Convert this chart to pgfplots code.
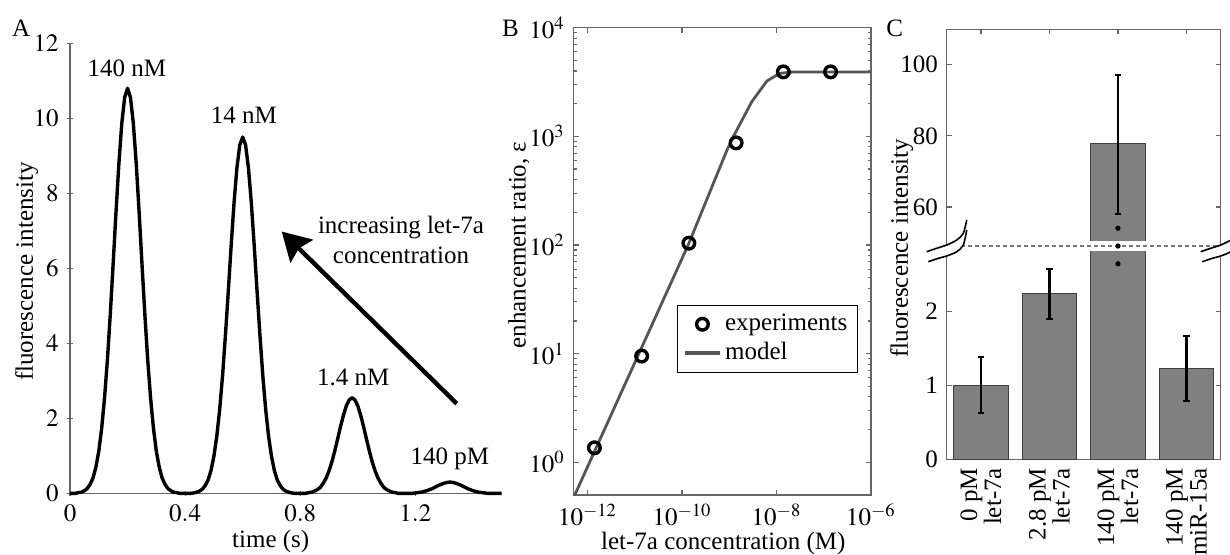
\documentclass[border=0pt]{standalone}
\usepackage{mathptmx}
\usepackage[no-math]{fontspec}
\setmainfont{Liberation Serif}
\usepackage{pgfplots}
\pgfplotsset{compat=1.18}
\usetikzlibrary{arrows.meta}
\definecolor{axisgray}{HTML}{666666}
\definecolor{dashgray}{HTML}{777777}
\definecolor{modelgray}{HTML}{555555}
\definecolor{barfill}{HTML}{808080}
\definecolor{baredge}{HTML}{404040}
\newcommand{\fs}{\fontsize{12.5}{15}\selectfont}
\pgfplotsset{
  every axis/.append style={
    scale only axis, anchor=south west,
    axis line style={axisgray, line width=0.6pt},
    every tick/.style={axisgray, line width=0.6pt},
    major tick length=2.6pt, minor tick length=1.6pt,
    tick align=inside,
    tick label style={font=\fs},
    label style={font=\fs},
  },
  errbar/.style={black, line width=1.2pt, mark=-, mark size=1.6pt, mark options={line width=1pt}},
}
\begin{document}
\fs
\begin{tikzpicture}
\path[use as bounding box] (0,0) rectangle (615pt,277pt);

% ---- A: peaks
\begin{axis}[at={(35pt,30.35pt)}, width=215.85pt, height=225pt,
  axis lines=left, axis line style={-},
  xmin=0, xmax=1.5, ymin=0, ymax=12,
  xtick={0,0.4,0.8,1.2}, ytick={0,2,4,6,8,10,12},
  xlabel={time (s)}, ylabel={fluorescence intensity},
  xlabel style={at={(axis description cs:0.465,-0.106)}, anchor=center},
  ylabel style={at={(axis description cs:-0.1003,0.493)}, anchor=center},
  clip=false]
\addplot[black, line width=1.7pt, line join=round] coordinates {
 (0,0) (0.02,0) (0.03,0.02) (0.04,0.03) (0.05,0.07) (0.06,0.13) (0.07,0.24) (0.08,0.41) (0.09,0.70)
 (0.10,1.12) (0.11,1.73) (0.12,2.54) (0.13,3.56) (0.14,4.78) (0.15,6.13) (0.16,7.52) (0.17,8.81)
 (0.18,9.87) (0.19,10.56) (0.20,10.80) (0.21,10.56) (0.22,9.87) (0.23,8.81) (0.24,7.52) (0.25,6.13)
 (0.26,4.78) (0.27,3.56) (0.28,2.54) (0.29,1.73) (0.30,1.12) (0.31,0.70) (0.32,0.41) (0.33,0.24)
 (0.34,0.13) (0.35,0.07) (0.36,0.03) (0.37,0.02) (0.38,0)
 (0.42,0) (0.43,0.01) (0.44,0.03) (0.45,0.06) (0.46,0.11) (0.47,0.21) (0.48,0.36) (0.49,0.61)
 (0.50,0.99) (0.51,1.52) (0.52,2.23) (0.53,3.13) (0.54,4.21) (0.55,5.39) (0.56,6.61) (0.57,7.75)
 (0.58,8.68) (0.59,9.29) (0.60,9.50) (0.61,9.29) (0.62,8.68) (0.63,7.75) (0.64,6.61) (0.65,5.39)
 (0.66,4.21) (0.67,3.13) (0.68,2.23) (0.69,1.52) (0.70,0.99) (0.71,0.61) (0.72,0.36) (0.73,0.21)
 (0.74,0.11) (0.75,0.06) (0.76,0.03) (0.77,0.01) (0.78,0)
 (0.82,0) (0.83,0.02) (0.84,0.03) (0.85,0.06) (0.86,0.10) (0.87,0.16) (0.88,0.27) (0.89,0.41)
 (0.90,0.60) (0.91,0.84) (0.92,1.13) (0.93,1.45) (0.94,1.78) (0.95,2.08) (0.96,2.33) (0.97,2.49)
 (0.98,2.55) (0.99,2.49) (1.00,2.33) (1.01,2.08) (1.02,1.78) (1.03,1.45) (1.04,1.13) (1.05,0.84)
 (1.06,0.60) (1.07,0.41) (1.08,0.27) (1.09,0.16) (1.10,0.10) (1.11,0.06) (1.12,0.03) (1.13,0.02) (1.14,0)
 (1.19,0) (1.20,0.01) (1.21,0.02) (1.22,0.03) (1.23,0.05) (1.24,0.07) (1.25,0.10) (1.26,0.13)
 (1.27,0.17) (1.28,0.21) (1.29,0.24) (1.30,0.27) (1.31,0.29) (1.32,0.30) (1.33,0.29) (1.34,0.27)
 (1.35,0.24) (1.36,0.21) (1.37,0.17) (1.38,0.13) (1.39,0.10) (1.40,0.07) (1.41,0.05) (1.42,0.03)
 (1.43,0.02) (1.44,0.01) (1.45,0) (1.5,0)
};
\node[anchor=base] at (axis cs:0.198,11.11) {140 nM};
\node[anchor=base] at (axis cs:0.604,9.85) {14 nM};
\node[anchor=base] at (axis cs:0.984,2.88) {1.4 nM};
\node[anchor=base] at (axis cs:1.320,0.755) {140 pM};
\node[align=center] at (axis cs:1.15,6.75) {increasing let-7a\\concentration};
\draw[line width=2.2pt, -{Stealth[length=14pt,width=16pt,inset=2pt]}]
  (axis cs:1.344,2.39) -- (axis cs:0.7356,6.98);
\end{axis}

% ---- B: enhancement ratio
\begin{axis}[at={(286.65pt,29.5pt)}, width=148.8pt, height=233.65pt,
  xmode=log, ymode=log, xmin=5e-13, xmax=1e-6, ymin=0.5, ymax=1e4,
  xtick={1e-12,1e-10,1e-8,1e-6}, ytick={1,10,100,1000,10000},
  xminorticks=false,
  xlabel={let-7a concentration (M)}, ylabel={enhancement ratio, ε},
  xlabel style={at={(axis description cs:0.504,-0.1027)}, anchor=center},
  ylabel style={at={(axis description cs:-0.1825,0.535)}, anchor=center},
  legend style={at={(0.9556,0.2613)}, anchor=south east, draw=black,
    font=\fs, inner xsep=3pt, inner ysep=2.5pt},
  legend cell align=left]
\addplot[modelgray, line width=1.4pt, forget plot] coordinates {
 (5.01e-13,0.468) (1.106e-12,1) (1.38e-10,102) (8.9e-10,741) (1.23e-9,1000)
 (3.02e-9,2090) (6.31e-9,3236) (1.17e-8,3802) (2.29e-8,3917) (1e-6,3917)
};
\addplot[only marks, mark=o, mark size=2.9pt, mark options={line width=1.7pt, black}] coordinates {
 (1.4e-12,1.36) (1.4e-11,9.5) (1.4e-10,104) (1.4e-9,871) (1.4e-8,3920) (1.4e-7,3920)
};
\addlegendentry{experiments}
\addlegendimage{modelgray, line width=1.6pt}
\addlegendentry{model}
\end{axis}

% ---- C: bars with broken axis
\begin{axis}[at={(473.35pt,47.35pt)}, width=137pt, height=215.05pt,
  xmin=0.5, xmax=4.5, ymin=0, ymax=110,
  y coord trafo/.code={\pgfmathparse{#1<49 ? #1 : 2.88+(#1-49)*0.048}},
  y coord inv trafo/.code={\pgfmathparse{#1<2.88 ? #1 : 49+(#1-2.88)/0.048}},
  ytick={0,1,2,60,80,100}, yticklabels={0,1,2,60,80,100},
  xtick={1,2,3,4},
  xticklabels={{0 pM\\let-7a},{2.8 pM\\let-7a},{140 pM\\let-7a},{140 pM\\miR-15a}},
  xticklabel style={rotate=90, anchor=east, align=right, font=\fontsize{12.5}{12}\selectfont},
  ylabel={fluorescence intensity},
  ylabel style={at={(axis description cs:-0.1642,0.491)}, anchor=center}]
\addplot[ybar, bar width=0.8, fill=barfill, draw=baredge, line width=0.5pt]
  table[x=x, y=y] {
 x y
 1 1.00
 2 2.24
 3 77.8
 4 1.23
};
% error bars (mean - sd, mean + sd)
\addplot[errbar] coordinates {(1,0.62) (1,1.38)};
\addplot[errbar] coordinates {(2,1.89) (2,2.57)};
\addplot[errbar] coordinates {(3,58.1) (3,97.2)};
\addplot[errbar] coordinates {(4,0.79) (4,1.67)};
\fill[white] (axis cs:2.585,2.811) rectangle (axis cs:3.415,50.4);
\draw[dashgray, dash pattern=on 2pt off 1.5pt, line width=0.6pt] (axis cs:0.5,2.88) -- (axis cs:4.5,2.88);
\addplot[only marks, mark=*, mark size=1.1pt, black] coordinates {(3,54) (3,2.88) (3,2.64)};
\end{axis}

% axis break marks
\foreach \dx in {0pt,137pt}{
\begin{scope}[xshift=\dx]
\fill[white] plot[smooth] coordinates {(463.35pt,151.15pt) (468.35pt,152.85pt) (473.35pt,154.5pt) (478.35pt,157pt) (481.65pt,160.35pt) (483.35pt,167pt)}
  -- plot[smooth] coordinates {(483.35pt,162pt) (481.65pt,154.5pt) (478.35pt,151.15pt) (473.35pt,149pt) (469.15pt,147.85pt) (464.15pt,146.15pt)} -- cycle;
\draw[black, line width=0.8pt] plot[smooth] coordinates {(463.35pt,151.15pt) (468.35pt,152.85pt) (473.35pt,154.5pt) (478.35pt,157pt) (481.65pt,160.35pt) (483.35pt,167pt)};
\draw[black, line width=0.8pt] plot[smooth] coordinates {(464.15pt,146.15pt) (469.15pt,147.85pt) (473.35pt,149pt) (478.35pt,151.15pt) (481.65pt,154.5pt) (483.35pt,162pt)};
\end{scope}}

% panel letters
\node[anchor=base west, inner sep=0pt] at (5.85pt,258.65pt) {A};
\node[anchor=base west, inner sep=0pt] at (250.85pt,258.65pt) {B};
\node[anchor=base west, inner sep=0pt] at (443pt,259pt) {C};
\end{tikzpicture}
\end{document}
